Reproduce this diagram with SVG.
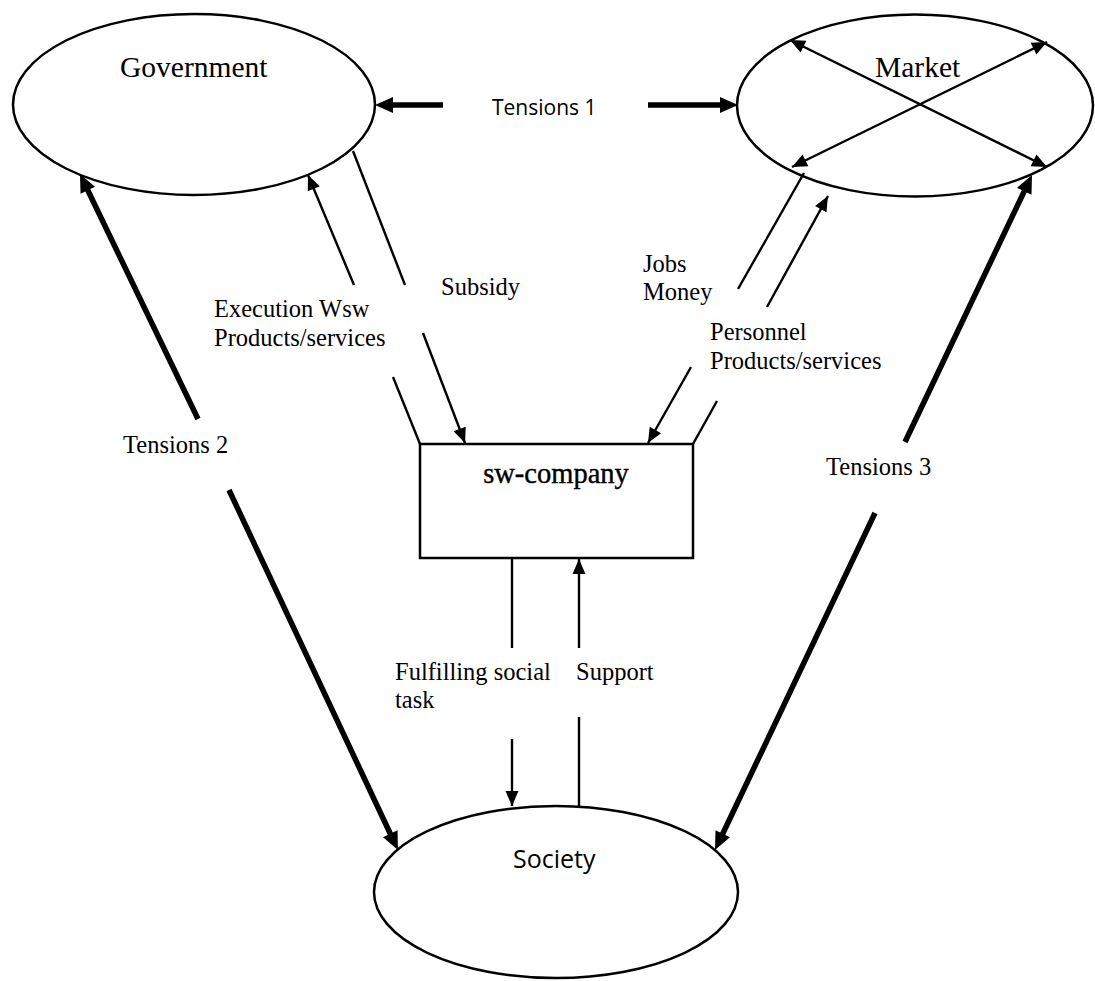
<svg xmlns="http://www.w3.org/2000/svg" width="1095" height="981" viewBox="0 0 1095 981">
<style>
.shape{fill:#fff;stroke:#000;stroke-width:2.5}
.thin{stroke:#000;stroke-width:2.4;fill:none}
.thick{stroke:#000;stroke-width:5.5;fill:none}
.serif{font-family:"Liberation Serif","Times New Roman",serif;fill:#000}
.sans{font-family:"Open Sans","Liberation Sans",sans-serif;fill:#000}
.lbl{font-size:24.5px}
</style>
<defs>
<marker id="ah" markerUnits="userSpaceOnUse" orient="auto-start-reverse" overflow="visible" markerWidth="1" markerHeight="1">
<path d="M-15,-6.5 L0,0 L-15,6.5 z" fill="#000"/>
</marker>
<marker id="tah" markerUnits="userSpaceOnUse" orient="auto" overflow="visible" markerWidth="1" markerHeight="1">
<path d="M-8,-8 L10,0 L-8,8 z" fill="#000"/>
</marker>
</defs>
<rect width="1095" height="981" fill="#fff"/>
<g id="government">
<ellipse class="shape" cx="194" cy="104.5" rx="181" ry="90.5"/>
<text class="serif" x="120" y="77" font-size="29.5">Government</text>
</g>
<g id="market">
<ellipse class="shape" cx="915" cy="105.5" rx="178" ry="91"/>
<text class="serif" x="875" y="77" font-size="29.5">Market</text>
</g>
<g id="society">
<ellipse class="shape" cx="556" cy="892" rx="182" ry="86"/>
<text class="sans" x="513" y="868" font-size="25">Society</text>
</g>
<g id="sw-company">
<rect class="shape" x="420" y="444" width="273" height="114"/>
<text class="serif" x="556" y="483" font-size="28.5" text-anchor="middle" stroke="#000" stroke-width="0.4">sw-company</text>
</g>
<g id="connectors">
<line class="thin" x1="790" y1="40" x2="1047" y2="167" marker-start="url(#ah)" marker-end="url(#ah)"/>
<line class="thin" x1="1047" y1="42" x2="792" y2="167" marker-start="url(#ah)" marker-end="url(#ah)"/>
<line class="thick" x1="443" y1="105" x2="385" y2="105" marker-end="url(#tah)"/>
<line class="thick" x1="648" y1="105" x2="728" y2="105" marker-end="url(#tah)"/>
<line class="thick" x1="198" y1="419" x2="84.3" y2="183" marker-end="url(#tah)"/>
<line class="thick" x1="229" y1="490" x2="393.7" y2="841" marker-end="url(#tah)"/>
<line class="thick" x1="905" y1="442" x2="1027.7" y2="184" marker-end="url(#tah)"/>
<line class="thick" x1="875" y1="513" x2="719.3" y2="841" marker-end="url(#tah)"/>
<line class="thin" x1="354" y1="285" x2="308" y2="175" marker-end="url(#ah)"/>
<line class="thin" x1="393" y1="377" x2="420" y2="444"/>
<line class="thin" x1="353" y1="151" x2="405" y2="285"/>
<line class="thin" x1="423" y1="333" x2="465" y2="443" marker-end="url(#ah)"/>
<line class="thin" x1="804" y1="173" x2="738" y2="289"/>
<line class="thin" x1="691" y1="367" x2="648" y2="443" marker-end="url(#ah)"/>
<line class="thin" x1="767" y1="307" x2="828" y2="196" marker-end="url(#ah)"/>
<line class="thin" x1="717" y1="401" x2="693" y2="444"/>
<line class="thin" x1="512" y1="558" x2="512" y2="648"/>
<line class="thin" x1="512" y1="739" x2="512" y2="806" marker-end="url(#ah)"/>
<line class="thin" x1="579" y1="806" x2="579" y2="717"/>
<line class="thin" x1="579" y1="648" x2="579" y2="559" marker-end="url(#ah)"/>
</g>
<g id="labels">
<text class="sans" x="492" y="115" font-size="21">Tensions 1</text>
<text class="serif lbl" x="214" y="317">Execution Wsw</text>
<text class="serif lbl" x="214" y="346">Products/services</text>
<text class="serif lbl" x="441" y="295">Subsidy</text>
<text class="serif lbl" x="643" y="272">Jobs</text>
<text class="serif lbl" x="643" y="300">Money</text>
<text class="serif lbl" x="710" y="340">Personnel</text>
<text class="serif lbl" x="710" y="369">Products/services</text>
<text class="serif lbl" x="123" y="453">Tensions 2</text>
<text class="serif lbl" x="826" y="475">Tensions 3</text>
<text class="serif lbl" x="395" y="680">Fulfilling social</text>
<text class="serif lbl" x="395" y="708">task</text>
<text class="serif lbl" x="576" y="680">Support</text>
</g>
</svg>
